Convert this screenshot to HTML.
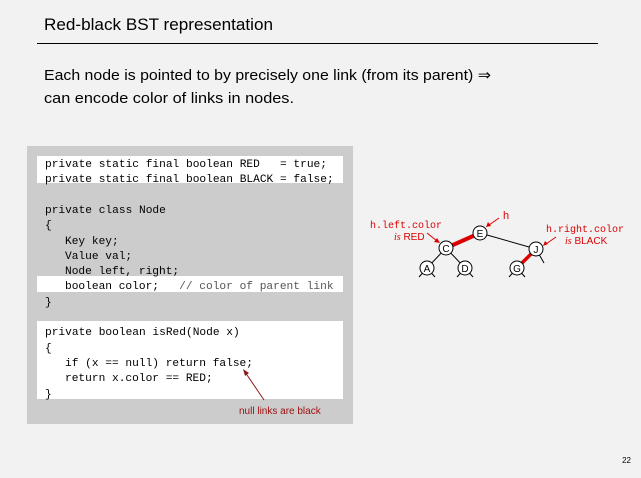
<!DOCTYPE html>
<html><head><meta charset="utf-8"><style>
html,body{margin:0;padding:0;background:#f2f2f2;}
svg{display:block}
.m{font-family:"Liberation Mono",monospace;font-size:11.2px;fill:#000}
.s{font-family:"Liberation Sans",sans-serif}
</style></head><body>
<svg width="641" height="478" viewBox="0 0 641 478" xmlns="http://www.w3.org/2000/svg">
<rect width="641" height="478" fill="#f2f2f2"/>
<text class="s" x="44" y="30" font-size="17" textLength="229" lengthAdjust="spacingAndGlyphs">Red-black BST representation</text>
<line x1="37" y1="43.5" x2="598" y2="43.5" stroke="#000" stroke-width="1"/>
<text class="s" x="44" y="80" font-size="15" textLength="447" lengthAdjust="spacingAndGlyphs">Each node is pointed to by precisely one link (from its parent)  ⇒</text>
<text class="s" x="44" y="103" font-size="15" textLength="250" lengthAdjust="spacingAndGlyphs">can encode color of links in nodes.</text>

<rect x="27" y="146" width="326" height="278" fill="#cccccc"/>
<rect x="37" y="156" width="306" height="27" fill="#fff"/>
<rect x="37" y="276" width="306" height="16" fill="#fff"/>
<rect x="37" y="321" width="306" height="78" fill="#fff"/>
<g class="m">
<text x="45" y="167" xml:space="preserve">private static final boolean RED   = true;</text>
<text x="45" y="182" xml:space="preserve">private static final boolean BLACK = false;</text>
<text x="45" y="213">private class Node</text>
<text x="45" y="228">{</text>
<text x="65" y="244">Key key;</text>
<text x="65" y="259">Value val;</text>
<text x="65" y="274">Node left, right;</text>
<text x="65" y="289" xml:space="preserve">boolean color;   <tspan fill="#555">// color of parent link</tspan></text>
<text x="45" y="305">}</text>
<text x="45" y="335">private boolean isRed(Node x)</text>
<text x="45" y="351">{</text>
<text x="65" y="366">if (x == null) return false;</text>
<text x="65" y="381">return x.color == RED;</text>
<text x="45" y="397">}</text>
</g>
<line x1="264" y1="400" x2="245" y2="372" stroke="#8b1a1a" stroke-width="1"/>
<polygon points="243,369 249,373 245,376" fill="#8b1a1a"/>
<text class="s" x="239" y="414" font-size="10" fill="#a01010">null links are black</text>

<!-- tree -->
<g stroke="#000" stroke-width="1" fill="none">
<line x1="480" y1="233" x2="536" y2="249"/>
<line x1="446" y1="248" x2="427" y2="268"/>
<line x1="446" y1="248" x2="465" y2="268"/>
<line x1="536" y1="249" x2="544" y2="263"/>
<line x1="427" y1="268" x2="419" y2="277"/><line x1="427" y1="268" x2="435" y2="277"/>
<line x1="465" y1="268" x2="457" y2="277"/><line x1="465" y1="268" x2="473" y2="277"/>
<line x1="517" y1="268" x2="509" y2="277"/><line x1="517" y1="268" x2="525" y2="277"/>
</g>
<line x1="480" y1="233" x2="446" y2="248" stroke="#d00" stroke-width="4"/>
<line x1="536" y1="249" x2="517" y2="268" stroke="#d00" stroke-width="3.5"/>
<g stroke="#000" stroke-width="1" fill="#fff">
<circle cx="480" cy="233" r="7"/><circle cx="446" cy="248" r="7"/><circle cx="536" cy="249" r="7"/>
<circle cx="427" cy="268" r="7"/><circle cx="465" cy="268" r="7"/><circle cx="517" cy="268" r="7"/>
</g>
<g class="s" font-size="10" text-anchor="middle">
<text x="480" y="237">E</text><text x="446" y="252">C</text><text x="536" y="253">J</text>
<text x="427" y="272">A</text><text x="465" y="272">D</text><text x="517" y="272">G</text>
</g>
<g fill="#d00">
<text x="370" y="228" font-family="Liberation Mono,monospace" font-size="10">h.left.color</text>
<text x="394" y="240" font-family="Liberation Sans,sans-serif" font-size="10"><tspan font-style="italic" font-family="Liberation Serif,serif">is</tspan> RED</text>
<text x="503" y="219" font-family="Liberation Sans,sans-serif" font-size="11">h</text>
<text x="546" y="232" font-family="Liberation Mono,monospace" font-size="10">h.right.color</text>
<text x="565" y="244" font-family="Liberation Sans,sans-serif" font-size="10"><tspan font-style="italic" font-family="Liberation Serif,serif">is</tspan> BLACK</text>
</g>
<g stroke="#d00" stroke-width="1">
<line x1="427" y1="233" x2="437" y2="241"/>
<line x1="499" y1="218" x2="489" y2="225"/>
<line x1="556" y1="237" x2="546" y2="244"/>
</g>
<g fill="#d00">
<polygon points="440,243 434,242 437,238"/>
<polygon points="486,227 488,222 491,226"/>
<polygon points="543,246 545,241 548,244"/>
</g>
<text class="s" x="631" y="463" font-size="8" text-anchor="end">22</text>
</svg>
</body></html>
